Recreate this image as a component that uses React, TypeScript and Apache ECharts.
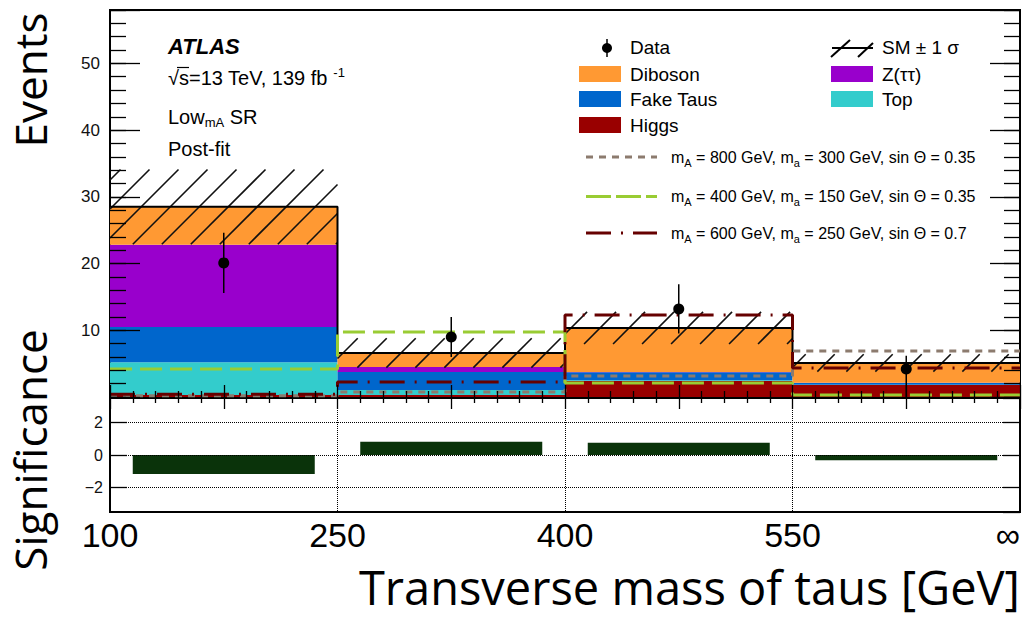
import React, { useEffect, useRef } from 'react';
import * as echarts from 'echarts';

// ---- data ----
const binLabels = ['100', '250', '400', '550', '∞'];
const binNames = ['100-250', '250-400', '400-550', '550-inf'];
const higgs = [0.3, 0.3, 2.4, 1.8];
const topQuark = [4.9, 0.75, 0.1, 0.05];
const fakeTaus = [5.3, 2.7, 1.2, 0.25];
const ztautau = [12.3, 0.75, 0.05, 0.05];
const diboson = [5.7, 2.1, 6.6, 2.95];
const smUncertainty = [5.6, 2.2, 2.4, 1.3];
const dataValues = [20.1, 9.0, 13.2, 4.2];
const dataErrLow = [4.5, 3.0, 3.7, 4.2];
const dataErrHigh = [4.5, 3.0, 3.7, 2.0];
const signal800 = [0.2, 0.75, 3.15, 6.9];
const signal400 = [4.2, 9.75, 2.1, 0.3];
const signal600 = [0.4, 2.25, 12.3, 4.35];
const significance = [-1.17, 0.81, 0.75, -0.32];

const FONT = 'Liberation Sans, Arial, Helvetica, sans-serif';
const TITLE_FONT = 'Open Sans, Noto Sans, sans-serif';

const C = {
  diboson: '#ff9933',
  fake: '#0066cc',
  higgs: '#990000',
  z: '#9900cc',
  top: '#33cccc',
  s800: '#8c7b6e',
  s400: '#99cc33',
  s600: '#660000',
  sig: '#0a330a',
};

const totals = higgs.map((_, i) => higgs[i] + topQuark[i] + fakeTaus[i] + ztautau[i] + diboson[i]);
const steps = (vals: number[]) => vals.flatMap((v, i) => [[i, v], [i + 1, v]]);

function buildOption(): any {
  const stackSeries = [
    { name: 'Higgs', data: higgs, color: C.higgs },
    { name: 'Top', data: topQuark, color: C.top },
    { name: 'Fake Taus', data: fakeTaus, color: C.fake },
    { name: 'Z(ττ)', data: ztautau, color: C.z },
    { name: 'Diboson', data: diboson, color: C.diboson },
  ].map((s) => ({
    type: 'bar',
    name: s.name,
    stack: 'sm',
    xAxisIndex: 0,
    yAxisIndex: 0,
    barWidth: '100%',
    data: s.data,
    itemStyle: { color: s.color },
    z: 2,
  }));

  const hatch = {
    type: 'custom',
    name: 'SM unc',
    xAxisIndex: 1,
    yAxisIndex: 0,
    z: 3,
    encode: { x: 0, y: [1, 2] },
    data: totals.map((t, i) => [i, t - smUncertainty[i], t + smUncertainty[i]]),
    renderItem: (params: any, api: any) => {
      const i = api.value(0);
      const lo = api.value(1);
      const hi = api.value(2);
      const a = api.coord([i, hi]);
      const b = api.coord([i + 1, lo]);
      const x0 = a[0], x1 = b[0], yT = a[1], yB = b[1];
      const s = 29;
      const children: any[] = [];
      const cMin = x0 + yT;
      const cMax = x1 + yB;
      for (let c = Math.ceil(cMin / s) * s; c <= cMax; c += s) {
        const xs = Math.max(x0, c - yB);
        const xe = Math.min(x1, c - yT);
        if (xe - xs < 1) continue;
        children.push({
          type: 'line',
          shape: { x1: xs, y1: c - xs, x2: xe, y2: c - xe },
          style: { stroke: '#111', lineWidth: 1.6 },
        });
      }
      return { type: 'group', children };
    },
  };

  const lineSeries = (name: string, vals: number[], color: string, dash: any, width: number, z: number) => ({
    type: 'line',
    name,
    xAxisIndex: 1,
    yAxisIndex: 0,
    data: steps(vals),
    showSymbol: false,
    symbol: 'none',
    z,
    lineStyle: { color, width, type: dash },
  });

  const dataSeries = {
    type: 'custom',
    name: 'Data',
    xAxisIndex: 1,
    yAxisIndex: 0,
    z: 6,
    encode: { x: 0, y: 1 },
    data: dataValues.map((v, i) => [i + 0.5, v, dataErrLow[i], dataErrHigh[i]]),
    renderItem: (params: any, api: any) => {
      const x = api.value(0);
      const v = api.value(1);
      const p = api.coord([x, v]);
      const pl = api.coord([x, v - api.value(2)]);
      const ph = api.coord([x, v + api.value(3)]);
      return {
        type: 'group',
        children: [
          { type: 'line', shape: { x1: p[0], y1: ph[1], x2: p[0], y2: pl[1] }, style: { stroke: '#000', lineWidth: 1.5 } },
          { type: 'circle', shape: { cx: p[0], cy: p[1], r: 5.5 }, style: { fill: '#000' } },
        ],
      };
    },
  };

  const axisBlack = { color: '#000', width: 1.3 };

  const txt = (text: string, x: number, y: number, size: number, extra: any = {}) => ({
    type: 'text',
    x,
    y,
    z: 100,
    style: {
      text,
      fill: '#000',
      fontFamily: FONT,
      fontSize: size,
      align: 'left',
      textAlign: 'left',
      verticalAlign: 'middle',
      textVerticalAlign: 'middle',
      ...extra,
    },
  });

  const swatch = (x: number, y: number, color: string) => ({
    type: 'rect',
    z: 100,
    shape: { x, y, width: 42, height: 16 },
    style: { fill: color },
  });

  const legendLine = (y: number, color: string, dash: number[]) => ({
    type: 'line',
    z: 100,
    shape: { x1: 586, y1: y, x2: 657, y2: y },
    style: { stroke: color, lineWidth: 3, lineDash: dash },
  });

  const sigRich = {
    t: { fontFamily: FONT, fontSize: 16, lineHeight: 22, verticalAlign: 'middle', fill: '#000', color: '#000' },
    s: { fontFamily: FONT, fontSize: 11, lineHeight: 12, verticalAlign: 'bottom', fill: '#000', color: '#000' },
  };
  const sigText = (mA: string, ma: string, sin: string, y: number) => ({
    type: 'text',
    x: 671,
    y,
    z: 100,
    style: {
      text: `{t|m}{s|A}{t| = ${mA} GeV, m}{s|a}{t| = ${ma} GeV, sin Θ = ${sin}}`,
      rich: sigRich,
      fill: '#000',
      align: 'left',
      verticalAlign: 'middle',
      textVerticalAlign: 'middle',
    },
  });

  const graphic = [
    // axis titles
    {
      type: 'text', x: 30, y: 80, rotation: Math.PI / 2, z: 100,
      style: { text: 'Events', fill: '#000', fontFamily: TITLE_FONT, fontSize: 44, align: 'center', textAlign: 'center', verticalAlign: 'middle', textVerticalAlign: 'middle' },
    },
    {
      type: 'text', x: 30, y: 450, rotation: Math.PI / 2, z: 100,
      style: { text: 'Significance', fill: '#000', fontFamily: TITLE_FONT, fontSize: 44, align: 'center', textAlign: 'center', verticalAlign: 'middle', textVerticalAlign: 'middle' },
    },
    {
      type: 'text', x: 1020, y: 587, z: 100,
      style: { text: 'Transverse mass of taus [GeV]', fill: '#000', fontFamily: TITLE_FONT, fontSize: 47, align: 'right', textAlign: 'right', verticalAlign: 'middle', textVerticalAlign: 'middle' },
    },
    // ATLAS labels
    txt('ATLAS', 168, 46, 22, { fontWeight: 'bold', fontStyle: 'italic' }),
    {
      type: 'text', x: 168, y: 78, z: 100,
      style: {
        text: '{t|√s=13 TeV, 139 fb }{p|-1}',
        rich: {
          t: { fontFamily: FONT, fontSize: 20, lineHeight: 24, verticalAlign: 'middle', fill: '#000' },
          p: { fontFamily: FONT, fontSize: 13, lineHeight: 14, verticalAlign: 'top', fill: '#000' },
        },
        verticalAlign: 'middle', textVerticalAlign: 'middle', align: 'left',
      },
    },
    { type: 'line', z: 100, shape: { x1: 177, y1: 67.5, x2: 189, y2: 67.5 }, style: { stroke: '#000', lineWidth: 1.2 } },
    {
      type: 'text', x: 168, y: 117, z: 100,
      style: {
        text: '{t|Low}{s|mA}{t| SR}',
        rich: {
          t: { fontFamily: FONT, fontSize: 20, lineHeight: 24, verticalAlign: 'middle', fill: '#000' },
          s: { fontFamily: FONT, fontSize: 13, lineHeight: 14, verticalAlign: 'bottom', fill: '#000' },
        },
        verticalAlign: 'middle', textVerticalAlign: 'middle', align: 'left',
      },
    },
    txt('Post-fit', 168, 149, 20),
    // legend: left column
    { type: 'line', z: 100, shape: { x1: 607, y1: 39, x2: 607, y2: 57 }, style: { stroke: '#000', lineWidth: 1.5 } },
    { type: 'circle', z: 100, shape: { cx: 607, cy: 48, r: 5 }, style: { fill: '#000' } },
    txt('Data', 630, 47, 19),
    swatch(579, 66, C.diboson),
    txt('Diboson', 630, 74, 19),
    swatch(579, 91, C.fake),
    txt('Fake Taus', 630, 99.5, 19),
    swatch(579, 117, C.higgs),
    txt('Higgs', 630, 125.5, 19),
    // legend: right column
    { type: 'line', z: 100, shape: { x1: 832, y1: 48, x2: 873, y2: 48 }, style: { stroke: '#000', lineWidth: 2 } },
    { type: 'line', z: 100, shape: { x1: 831, y1: 57, x2: 850, y2: 40 }, style: { stroke: '#000', lineWidth: 2 } },
    { type: 'line', z: 100, shape: { x1: 858, y1: 57, x2: 873, y2: 43 }, style: { stroke: '#000', lineWidth: 2 } },
    txt('SM ± 1 σ', 882, 47, 19),
    swatch(831, 66, C.z),
    txt('Z(ττ)', 882, 74, 19),
    swatch(831, 91, C.top),
    txt('Top', 882, 99.5, 19),
    // signal legend
    legendLine(157, C.s800, [7, 6]),
    sigText('800', '300', '0.35', 157),
    legendLine(196.5, C.s400, [25, 5]),
    sigText('400', '150', '0.35', 196),
    legendLine(233, C.s600, [25, 10, 2, 10]),
    sigText('600', '250', '0.7', 233),
  ];

  const gridBorder = { show: true, borderColor: '#000', borderWidth: 2, backgroundColor: 'transparent' };

  return {
    animation: false,
    backgroundColor: '#fff',
    textStyle: { fontFamily: FONT },
    grid: [
      { left: 110, top: 10, width: 910, height: 387, ...gridBorder },
      { left: 110, top: 398, width: 910, height: 114, ...gridBorder },
    ],
    xAxis: [
      { type: 'category', gridIndex: 0, data: binNames, show: false },
      {
        type: 'value', gridIndex: 0, min: 0, max: 4, interval: 0.5, position: 'bottom', z: 10,
        axisLine: { show: false },
        axisTick: { show: true, inside: true, length: 12, lineStyle: axisBlack },
        minorTick: { show: true, splitNumber: 5, length: 6, lineStyle: axisBlack },
        axisLabel: { show: false }, splitLine: { show: false },
      },
      {
        type: 'value', gridIndex: 0, min: 0, max: 4, interval: 0.5, position: 'top', z: 10,
        axisLine: { show: false },
        axisTick: { show: true, inside: true, length: 12, lineStyle: axisBlack },
        minorTick: { show: true, splitNumber: 5, length: 6, lineStyle: axisBlack },
        axisLabel: { show: false }, splitLine: { show: false },
      },
      { type: 'category', gridIndex: 1, data: binNames, show: false },
      {
        type: 'value', gridIndex: 1, min: 0, max: 4, interval: 1, position: 'bottom', z: 10,
        axisLine: { show: false },
        axisTick: { show: false },
        axisLabel: {
          show: true, margin: 6, fontSize: 34, color: '#000', fontFamily: FONT,
          formatter: (v: number) => binLabels[Math.round(v)] ?? '',
          alignMaxLabel: 'right',
        },
        splitLine: { show: true, lineStyle: { color: '#000', type: 'dotted', width: 1 } },
      },
    ],
    yAxis: [
      {
        type: 'value', gridIndex: 0, min: 0, max: 58, interval: 2, position: 'left', z: 10,
        axisLine: { show: false },
        axisTick: { show: true, inside: true, length: 16, lineStyle: axisBlack },
        axisLabel: {
          show: true, margin: 10, fontSize: 17, color: '#111', fontFamily: FONT,
          formatter: (v: number) => (v > 0 && Math.abs(v % 10) < 1e-6 ? String(v) : ''),
        },
        splitLine: { show: false },
      },
      {
        type: 'value', gridIndex: 0, min: 0, max: 58, interval: 10, position: 'left', z: 10,
        axisLine: { show: false },
        axisTick: { show: true, inside: true, length: 30, lineStyle: axisBlack },
        axisLabel: { show: false }, splitLine: { show: false },
      },
      {
        type: 'value', gridIndex: 0, min: 0, max: 58, interval: 2, position: 'right', z: 10,
        axisLine: { show: false },
        axisTick: { show: true, inside: true, length: 16, lineStyle: axisBlack },
        axisLabel: { show: false }, splitLine: { show: false },
      },
      {
        type: 'value', gridIndex: 0, min: 0, max: 58, interval: 10, position: 'right', z: 10,
        axisLine: { show: false },
        axisTick: { show: true, inside: true, length: 30, lineStyle: axisBlack },
        axisLabel: { show: false }, splitLine: { show: false },
      },
      {
        type: 'value', gridIndex: 1, min: -3.5, max: 3.5, splitNumber: 3, position: 'left', z: 10,
        axisLine: { show: false },
        axisTick: { show: true, inside: true, length: 17, lineStyle: axisBlack },
        axisLabel: {
          show: true, margin: 7, fontSize: 16, color: '#111', fontFamily: FONT,
          showMinLabel: false, showMaxLabel: false,
          formatter: (v: number) => String(v).replace('-', '−'),
        },
        splitLine: { show: true, lineStyle: { color: '#000', type: 'dotted', width: 1 } },
      },
      {
        type: 'value', gridIndex: 1, min: -3.5, max: 3.5, splitNumber: 3, position: 'right', z: 10,
        axisLine: { show: false },
        axisTick: { show: true, inside: true, length: 17, lineStyle: axisBlack },
        axisLabel: { show: false }, splitLine: { show: false },
      },
    ],
    series: [
      ...stackSeries,
      hatch,
      lineSeries('SM total', totals, '#000', 'solid', 2, 4),
      lineSeries('mA=800', signal800, C.s800, [7, 6], 3, 5),
      lineSeries('mA=400', signal400, C.s400, [22, 8], 3, 5),
      lineSeries('mA=600', signal600, C.s600, [25, 10, 2, 10], 3, 5),
      dataSeries,
      {
        type: 'bar',
        name: 'Significance',
        xAxisIndex: 3,
        yAxisIndex: 4,
        barWidth: '80%',
        data: significance,
        itemStyle: { color: C.sig },
      },
    ],
    graphic,
  };
}

export default function App() {
  const ref = useRef<HTMLDivElement>(null);
  useEffect(() => {
    if (!ref.current) return;
    const chart = echarts.init(ref.current, null, { renderer: 'svg' });
    chart.setOption(buildOption());
    return () => chart.dispose();
  }, []);
  return (
    <div
      ref={ref}
      style={{ position: 'fixed', left: 0, top: 0, width: 1026, height: 620, background: '#fff' }}
    />
  );
}
